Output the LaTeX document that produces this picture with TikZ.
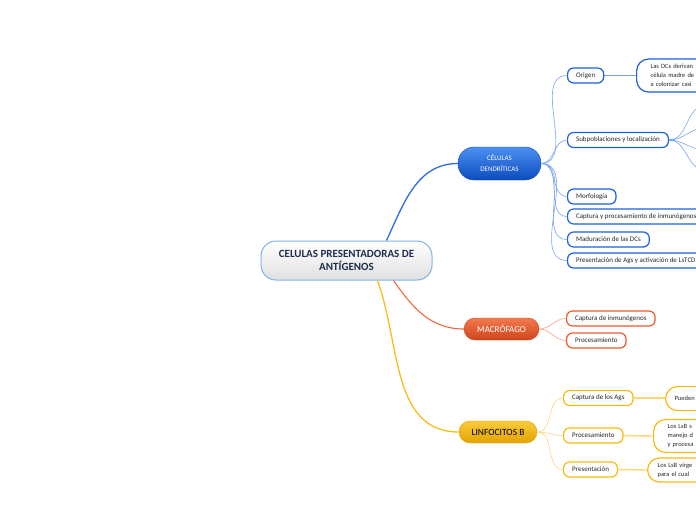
\documentclass[tikz,border=0pt]{standalone}
\usepackage{fontspec}
\setmainfont{Carlito}
\usetikzlibrary{calc}
\definecolor{rootborder}{HTML}{7FB3E8}
\definecolor{rootnavy}{HTML}{1F2D4F}
\definecolor{dctop}{HTML}{4C90F2}
\definecolor{dcbot}{HTML}{0B4BBE}
\definecolor{bborder}{HTML}{1C62DC}
\definecolor{bline}{HTML}{7AA6F0}
\definecolor{bmain}{HTML}{2A6FE0}
\definecolor{mactop}{HTML}{F27A50}
\definecolor{macbot}{HTML}{D0441A}
\definecolor{oborder}{HTML}{E85A2E}
\definecolor{oline}{HTML}{F6A488}
\definecolor{omain}{HTML}{EE6A40}
\definecolor{lintop}{HTML}{F9CB3C}
\definecolor{linbot}{HTML}{E3A300}
\definecolor{gborder}{HTML}{F7BA10}
\definecolor{gline}{HTML}{FCD67A}
\definecolor{gmain}{HTML}{F8BE1E}
\tikzset{
  rootbox/.style={draw=rootborder, line width=1pt, rounded corners=15pt, top color=white, bottom color=black!12,
    minimum width=171pt, minimum height=39pt, align=center, font=\fontsize{11}{13}\selectfont\bfseries, text=rootnavy},
  dcbox/.style={draw=dcbot, rounded corners=16pt, top color=dctop, bottom color=dcbot,
    minimum width=83pt, minimum height=33pt, align=center, font=\fontsize{7}{11}\selectfont, text=white},
  macbox/.style={draw=macbot, rounded corners=11pt, top color=mactop, bottom color=macbot,
    minimum width=75pt, minimum height=22pt, font=\fontsize{9}{10}\selectfont, text=white},
  linbox/.style={draw=linbot, rounded corners=11pt, top color=lintop, bottom color=linbot,
    minimum width=78pt, minimum height=22pt, font=\fontsize{9.5}{10}\selectfont, text=black},
  child/.style={fill=white, line width=1.2pt, rounded corners=6pt, anchor=west, inner xsep=8.5pt,
    minimum height=15pt, font=\fontsize{7}{8}\selectfont, text=black!85},
  bchild/.style={child, draw=bborder},
  ochild/.style={child, draw=oborder},
  gchild/.style={child, draw=gborder},
  gchildtext/.style={fill=white, line width=1.2pt, rounded corners=12pt, anchor=west, align=left,
    inner xsep=14pt, inner ysep=4pt, font=\fontsize{6.5}{9}\selectfont, text=black!85},
  blink/.style={draw=bline, line width=0.6pt},
  olink/.style={draw=oline, line width=0.6pt},
  glink/.style={draw=gline, line width=0.6pt},
}
\begin{document}
\begin{tikzpicture}[x=1pt,y=-1pt]
\useasboundingbox (0,0) rectangle (696,520);
\clip (0,0) rectangle (696,520);
\fill[white] (0,0) rectangle (696,520);

% main nodes
\node[rootbox] (root) at (346.5,260.5) {CELULAS PRESENTADORAS DE\\ANTÍGENOS};
\node[dcbox] (dc) at (499.5,163.5) {CÉLULAS\\DENDRÍTICAS};
\node[macbox] (mac) at (501.5,329) {MACRÓFAGO};
\node[linbox] (lin) at (498,432) {LINFOCITOS B};

% main connectors
\draw[bmain, line width=1.3pt] ($(root.north)+(40,0)$) to[out=65,in=180] (dc.west);
\draw[omain, line width=1.1pt] ($(root.south)+(47,0)$) to[out=-55,in=180] (mac.west);
\draw[gmain, line width=1.3pt] ($(root.south)+(31,0)$) to[out=-70,in=180] (lin.west);

% blue children
\node[bchild] (origen) at (567,75.5) {Origen};
\node[bchild] (sub) at (567,140) {Subpoblaciones y localización};
\node[bchild] (morf) at (567,196.5) {Morfología};
\node[bchild] (capt) at (567,216.5) {Captura y procesamiento de inmunógenos};
\node[bchild] (mad) at (567,239.5) {Maduración de las DCs};
\node[bchild] (pres) at (567,260.5) {Presentación de Ags y activación de LsTCD};

\foreach \n in {origen,sub,morf,capt,mad,pres}
  \draw[blink] (dc.east) to[out=0,in=180] (\n.west);

% origen detail
\node[gchildtext, draw=bborder, text width=80pt, minimum height=33pt] (origdet) at (636,75.5)
  {Las DCs derivan\\célula madre de\\a colonizar casi};
\draw[bline, line width=1.6pt] (origen.east) -- (origdet.west);

% subpoblaciones branches
\coordinate (s1) at (705,106);
\coordinate (s2) at (705,128);
\coordinate (s3) at (705,150);
\coordinate (s4) at (705,170);
\foreach \c in {s1,s2,s3,s4}
  \draw[blink] (sub.east) to[out=0,in=180] (\c);
\draw[bline, line width=1.6pt] (sub.east) -- ++(6,0);

% orange children
\node[ochild] (ocapt) at (566,318.5) {Captura de inmunógenos};
\node[ochild] (oproc) at (566,340.5) {Procesamiento};
\foreach \n in {ocapt,oproc}
  \draw[olink] (mac.east) to[out=0,in=180] (\n.west);

% gold children
\node[gchild] (gcapt) at (563,398) {Captura de los Ags};
\node[gchild] (gproc) at (563,435.5) {Procesamiento};
\node[gchild] (gpres) at (563,469.5) {Presentación};
\foreach \n in {gcapt,gproc,gpres}
  \draw[glink] (lin.east) to[out=0,in=180] (\n.west);

% gold details
\node[gchildtext, draw=gborder, text width=60pt, minimum height=24pt, inner xsep=9pt, anchor=north west] (gd1) at (665,386)
  {Pueden};
\node[gchildtext, draw=gborder, text width=60pt, minimum height=33pt] (gd2) at (653,436)
  {Los LsB s\\manejo d\\y procesa};
\node[gchildtext, draw=gborder, text width=60pt, minimum height=24pt, inner xsep=10pt] (gd3) at (647,470)
  {Los LsB vírge\\para el cual};
\draw[gline, line width=1.4pt] (gcapt.east) -- (gcapt.east -| gd1.west);
\draw[gline, line width=1.4pt] (gproc.east) -- (gd2.west);
\draw[gline, line width=1.4pt] (gpres.east) -- (gd3.west);
\end{tikzpicture}
\end{document}
